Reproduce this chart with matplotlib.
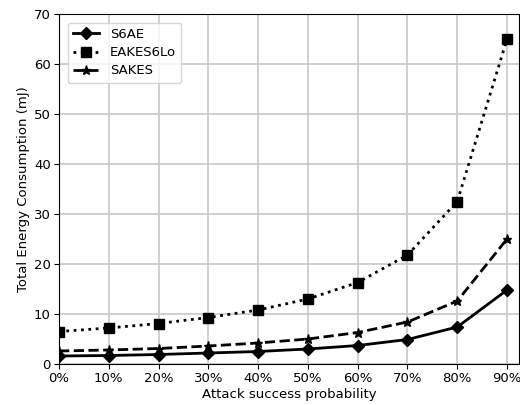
import matplotlib
matplotlib.use("Agg")
import matplotlib.pyplot as plt
from matplotlib.ticker import FuncFormatter

plt.rcParams['font.size'] = 9.5

x = [0.0, 0.1, 0.2, 0.3, 0.4, 0.5, 0.6, 0.7, 0.8, 0.9]
s6ae = [1.6, 1.7, 1.9, 2.2, 2.5, 3.0, 3.7, 4.9, 7.4, 14.8]
eakes6lo = [6.5, 7.2, 8.1, 9.3, 10.8, 13.0, 16.3, 21.8, 32.5, 65.0]
sakes = [2.6, 2.8, 3.1, 3.6, 4.2, 5.0, 6.3, 8.4, 12.6, 25.0]

fig = plt.figure(figsize=(5.2, 4.05), dpi=100)
ax = fig.add_axes([59/520, 41/405, 460/520, 350/405])

ax.plot(x, s6ae, '-', color='black', marker='D', markersize=6.5, linewidth=2, label='S6AE')
ax.plot(x, eakes6lo, ':', color='black', marker='s', markersize=6.5, linewidth=2, label='EAKES6Lo')
ax.plot(x, sakes, '--', color='black', marker='*', markersize=6.5, linewidth=2, label='SAKES')

ax.set_xlim(0, 0.924)
ax.set_ylim(0, 70)
ax.set_xticks(x)
ax.xaxis.set_major_formatter(FuncFormatter(lambda v, p: f"{v*100:.0f}%"))
ax.set_yticks(range(0, 71, 10))
ax.grid(True, color='#c8c8c8', linewidth=1.2)
ax.set_axisbelow(True)
ax.tick_params(pad=2.5)
ax.set_xlabel('Attack success probability', labelpad=2)
ax.set_ylabel('Total Energy Consumption (mJ)', labelpad=3)
ax.legend(loc='upper left', borderaxespad=0.65, labelspacing=0.4)

fig.savefig('out.png', dpi=100)
